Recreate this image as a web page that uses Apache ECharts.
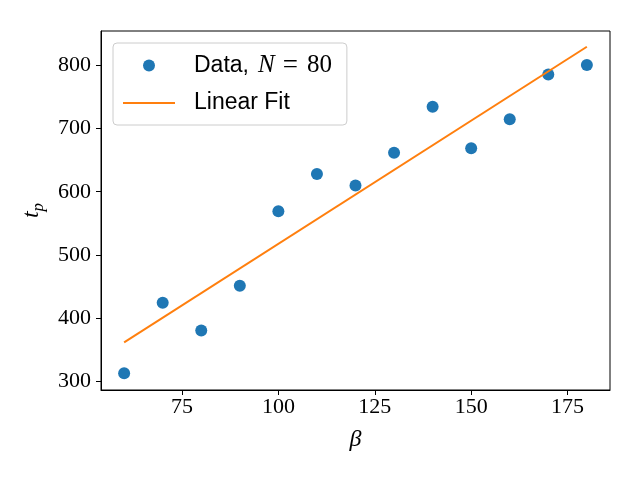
<!DOCTYPE html>
<html>
<head>
<meta charset="utf-8">
<script src="https://cdn.jsdelivr.net/npm/echarts@6/dist/echarts.min.js"></script>
<style>
  html, body { margin: 0; padding: 0; background: #fff; }
  #chart { width: 640px; height: 480px; }
</style>
</head>
<body>
<div id="chart"></div>
<script>
// measured data, beta vs t_p
var beta = [60, 70, 80, 90, 100, 110, 120, 130, 140, 150, 160, 170, 180];
var tp = [312, 424, 380, 451, 569, 628, 610, 662, 735, 669, 715, 786, 801];
// straight fit line end points
var fitX = [60, 180];
var fitY = [361, 830];
var xTicks = [75, 100, 125, 150, 175];
var yTicks = [300, 400, 500, 600, 700, 800];

var serif = 'Liberation Serif';
var sans = 'Liberation Sans';

var dataPts = [];
for (var i = 0; i < beta.length; i++) {
    dataPts.push([beta[i], tp[i]]);
}
var fitPts = [];
for (var j = 0; j < fitX.length; j++) {
    fitPts.push([fitX[j], fitY[j]]);
}

var option = {
    animation: false,
    grid: {
        left: 101,
        right: 30,
        top: 31,
        bottom: 90,
        show: true,
        borderColor: '#000',
        borderWidth: 1
    },
    legend: {
        orient: 'vertical',
        left: 113,
        top: 43,
        padding: [9, 15, 9, 9],
        itemWidth: 52,
        itemHeight: 12,
        itemGap: 11,
        borderColor: '#cccccc',
        borderWidth: 1,
        borderRadius: 4,
        backgroundColor: 'rgba(255,255,255,0.8)',
        data: [
            {name: 'Data', icon: 'circle'},
            {name: 'Linear Fit', itemStyle: {opacity: 0}}
        ],
        formatter: function (name) {
            if (name === 'Data') {
                return '{s|Data,}{i|N}{e|=}{m|80}';
            }
            return '{s|Linear Fit}';
        },
        textStyle: {
            padding: [0, 0, 0, 14],
            lineHeight: 26,
            rich: {
                s: {fontFamily: sans, fontSize: 23, color: '#000', lineHeight: 26},
                i: {fontFamily: serif, fontStyle: 'italic', fontSize: 25, color: '#000', lineHeight: 26, padding: [0, 0, 0, 9]},
                e: {fontFamily: serif, fontSize: 27, color: '#000', lineHeight: 26, padding: [0, 9, 0, 8]},
                m: {fontFamily: serif, fontSize: 25, color: '#000', lineHeight: 26}
            }
        }
    },
    xAxis: {
        type: 'value',
        min: 54,
        max: 186,
        name: 'β',
        nameLocation: 'middle',
        nameGap: 38,
        nameTextStyle: {fontFamily: serif, fontStyle: 'italic', fontSize: 24, color: '#000'},
        splitLine: {show: false},
        axisLine: {show: true, lineStyle: {color: '#000', width: 1}},
        axisTick: {show: true, length: 5, customValues: xTicks, lineStyle: {color: '#000'}},
        axisLabel: {
            customValues: xTicks,
            margin: 6,
            fontFamily: serif,
            fontSize: 22,
            color: '#000'
        }
    },
    yAxis: {
        type: 'value',
        min: 285.5,
        max: 855,
        name: '{t|t}{p|p}',
        nameLocation: 'middle',
        nameGap: 52,
        nameTextStyle: {
            rich: {
                t: {fontFamily: serif, fontStyle: 'italic', fontSize: 24, color: '#000', lineHeight: 30, verticalAlign: 'middle'},
                p: {fontFamily: serif, fontStyle: 'italic', fontSize: 17, color: '#000', lineHeight: 30, verticalAlign: 'bottom'}
            }
        },
        splitLine: {show: false},
        axisLine: {show: true, lineStyle: {color: '#000', width: 1}},
        axisTick: {show: true, length: 5, customValues: yTicks, lineStyle: {color: '#000'}},
        axisLabel: {
            customValues: yTicks,
            margin: 10,
            fontFamily: serif,
            fontSize: 22,
            color: '#000'
        }
    },
    series: [{
        name: 'Data',
        type: 'scatter',
        symbol: 'circle',
        symbolSize: 12,
        itemStyle: {color: '#1f77b4', opacity: 1},
        data: dataPts
    }, {
        name: 'Linear Fit',
        type: 'line',
        symbol: 'none',
        lineStyle: {color: '#ff7f0e', width: 2},
        itemStyle: {color: '#ff7f0e'},
        data: fitPts
    }]
};

var myChart = echarts.init(document.getElementById('chart'));
myChart.setOption(option);
</script>
</body>
</html>
